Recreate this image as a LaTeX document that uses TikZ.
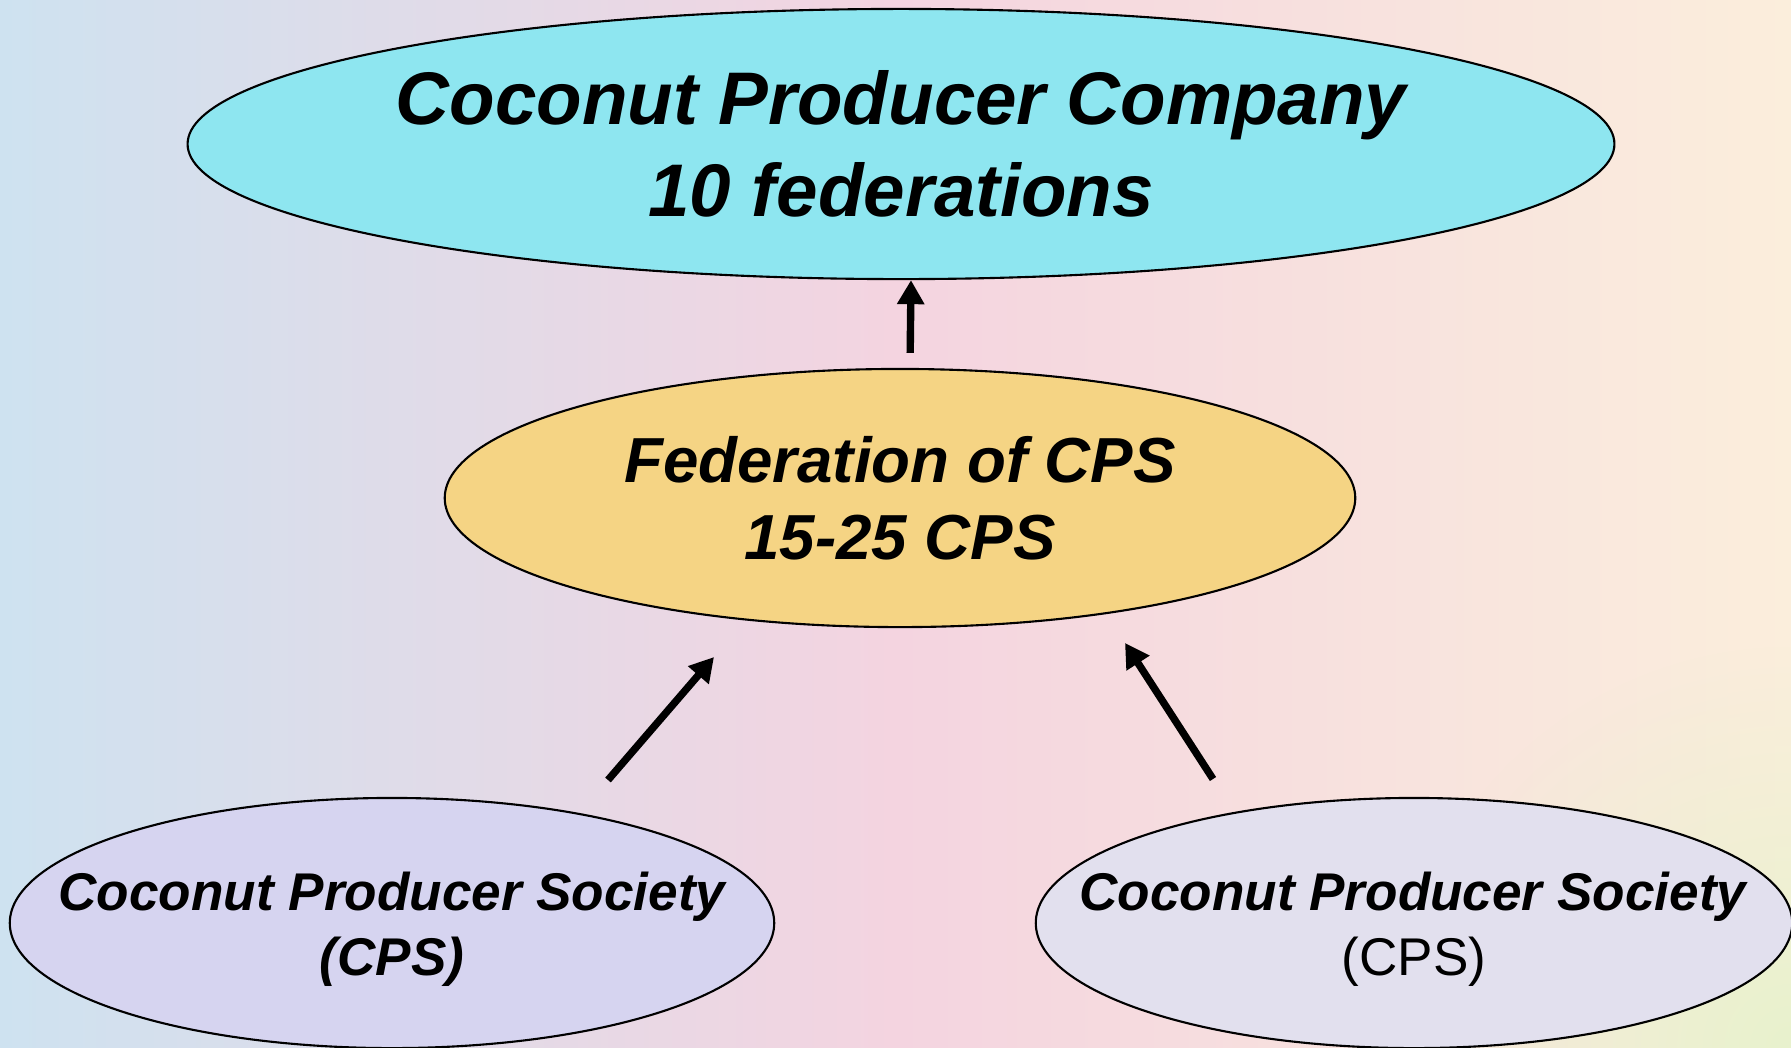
\documentclass[tikz,border=0pt]{standalone}
\usepackage{fontspec}
\setmainfont{Liberation Sans}
\usepackage{xcolor}
\usepackage{tikz}
\definecolor{bgblue}{RGB}{206,226,240}
\definecolor{bgpink}{RGB}{244,212,224}
\definecolor{bgpeach}{RGB}{251,238,220}
\definecolor{bglime}{RGB}{232,242,205}
\definecolor{companycyan}{RGB}{142,230,240}
\definecolor{fedyellow}{RGB}{245,212,132}
\definecolor{cpslilac}{RGB}{214,212,240}
\definecolor{cpsgray}{RGB}{226,224,238}
\usetikzlibrary{shapes.geometric, arrows.meta, positioning, calc, fadings}
\tikzfading[name=softglow, inner color=transparent!0, outer color=transparent!100]

\begin{document}
\begin{tikzpicture}[x=0.01cm, y=-0.01cm,
        oval/.style={ellipse, draw=black, line width=0.6pt, inner sep=0pt},
        ovaltext/.style={align=center, inner sep=0pt, font=\bfseries\itshape},
        uparrow/.style={-{Triangle[length=0.24cm, width=0.26cm]}, line width=2.1pt, black}]
        % background
        \useasboundingbox (0,0) rectangle (1791,1047);
        \shade[left color=bgblue, right color=bgpeach, middle color=bgpink] (0,0) rectangle (1791,1047);
        \fill[bglime, path fading=softglow] (1791,1047) circle (4cm);

        % ovals
        \node[oval, fill=companycyan, minimum width=14.26cm, minimum height=2.70cm] (company) at (901,144) {};
        \node[oval, fill=fedyellow, minimum width=9.10cm, minimum height=2.58cm] (fed) at (900,498) {};
        \node[oval, fill=cpslilac, minimum width=7.64cm, minimum height=2.50cm] (cpsleft) at (392,923) {};
        \node[oval, fill=cpsgray, minimum width=7.56cm, minimum height=2.50cm] (cpsright) at (1414,923) {};

        % texts
        \node[ovaltext, font=\fontsize{21.2}{26}\selectfont\bfseries\itshape] (companytext) at (company) {Coconut Producer Company\\10 federations};
        \node[ovaltext, font=\fontsize{18.1}{21.8}\selectfont\bfseries\itshape] (fedtext) at (fed) {Federation of CPS\\15-25 CPS};
        \node[ovaltext, font=\fontsize{15.1}{18.5}\selectfont\bfseries\itshape, yshift=-0.06cm] (cpslefttext) at (cpsleft) {Coconut Producer Society\\(CPS)};
        \node[ovaltext, font=\fontsize{15.1}{18.5}\selectfont, yshift=-0.06cm] (cpsrighttext) at (cpsright) {\textbf{\textit{Coconut Producer Society}}\\(CPS)};

        % arrows
        \coordinate (lefttail) at (608,780);
        \coordinate (lefttip) at (714,657);
        \coordinate (righttail) at (1213,779);
        \coordinate (righttip) at (1125,643);
        \draw[uparrow, shorten <=0.15cm] ([xshift=0.1cm]fed.north) -- ([xshift=0.1cm]company.south);
        \draw[uparrow] (lefttail) -- (lefttip);
        \draw[uparrow] (righttail) -- (righttip);
    \end{tikzpicture}
\end{document}
